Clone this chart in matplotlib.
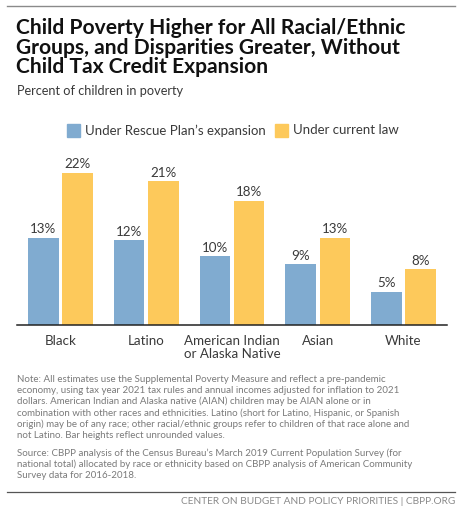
import numpy as np
import matplotlib
matplotlib.use("Agg")
import matplotlib.pyplot as plt
from matplotlib.patches import Rectangle
from matplotlib.lines import Line2D

# data
groups = ["Black", "Latino", "American Indian\nor Alaska Native", "Asian", "White"]
rescue_plan = [12.65, 12.3, 10.0, 8.85, 4.8]
current_law = [22.05, 20.8, 18.0, 12.65, 8.05]
rescue_labels = ["13%", "12%", "10%", "9%", "5%"]
current_labels = ["22%", "21%", "18%", "13%", "8%"]
series_names = ["Under Rescue Plan\u2019s expansion", "Under current law"]

title = ("Child Poverty Higher for All Racial/Ethnic\n"
         "Groups, and Disparities Greater, Without\n"
         "Child Tax Credit Expansion")
subtitle = "Percent of children in poverty"
note = ("Note: All estimates use the Supplemental Poverty Measure and reflect a pre-pandemic\n"
        "economy, using tax year 2021 tax rules and annual incomes adjusted for inflation to 2021\n"
        "dollars. American Indian and Alaska native (AIAN) children may be AIAN alone or in\n"
        "combination with other races and ethnicities. Latino (short for Latino, Hispanic, or Spanish\n"
        "origin) may be of any race; other racial/ethnic groups refer to children of that race alone and\n"
        "not Latino. Bar heights reflect unrounded values.")
source = ("Source: CBPP analysis of the Census Bureau\u2019s March 2019 Current Population Survey (for\n"
          "national total) allocated by race or ethnicity based on CBPP analysis of American Community\n"
          "Survey data for 2016-2018.")
footer = "CENTER ON BUDGET AND POLICY PRIORITIES | CBPP.ORG"

BLUE = "#80abd0"
YELLOW = "#fdc95b"
TXT = "#3a3a3a"
W, H = 464, 512

plt.rcParams["font.family"] = ["Lato", "DejaVu Sans"]

fig = plt.figure(figsize=(W / 100, H / 100), dpi=100)


def fx(px):
    return px / W


def fy(py):
    return 1 - py / H


# rules at top and bottom
fig.add_artist(Line2D([fx(7), fx(455)], [fy(6), fy(6)], color="#8a8a8a", lw=1.0))
fig.add_artist(Line2D([fx(7), fx(455)], [fy(492), fy(492)], color="#555555", lw=0.9))

fig.text(fx(16), fy(18), title, fontsize=15.1, fontweight="bold", color="#111111",
         va="top", ha="left", linespacing=0.98)
fig.text(fx(17), fy(91), subtitle, fontsize=9.2, color=TXT, va="center", ha="left")

# legend
for (x0, name, col) in [(67, series_names[0], BLUE), (275, series_names[1], YELLOW)]:
    fig.add_artist(Rectangle((fx(x0), fy(137)), fx(13), 13 / H, color=col,
                             transform=fig.transFigure))
    fig.text(fx(x0 + 18), fy(130.5), name, fontsize=9.5, color=TXT,
             va="center", ha="left")

# bars
ax = fig.add_axes([fx(17), fy(325), fx(430), (325 - 160) / H])
x = np.arange(len(groups))
bw = 0.355
off = 0.2
ax.bar(x - off, rescue_plan, bw, color=BLUE)
ax.bar(x + off, current_law, bw, color=YELLOW)
for i in range(len(groups)):
    ax.text(x[i] - off, rescue_plan[i] + 0.35, rescue_labels[i], ha="center", va="bottom",
            fontsize=9.6, color=TXT)
    ax.text(x[i] + off, current_law[i] + 0.35, current_labels[i], ha="center", va="bottom",
            fontsize=9.6, color=TXT)

ax.set_xlim(-0.507, 4.507)
ax.set_ylim(0, 165 / 6.9)
for s in ["top", "right", "left"]:
    ax.spines[s].set_visible(False)
ax.spines["bottom"].set_color("#222222")
ax.spines["bottom"].set_linewidth(1.1)
ax.set_yticks([])
ax.set_xticks(x)
ax.set_xticklabels(groups, fontsize=9.6, color=TXT, linespacing=1.15)
ax.tick_params(axis="x", length=0, pad=7)

# notes
fig.text(fx(17), fy(375), note, fontsize=7.0, color="#7a7a7a", va="top", ha="left",
         linespacing=1.25)
fig.text(fx(17), fy(448), source, fontsize=7.0, color="#7a7a7a", va="top", ha="left",
         linespacing=1.25)
fig.text(fx(455), fy(501), footer, fontsize=7.3, color="#8a8a8a", va="center", ha="right")

fig.savefig("out.png", dpi=100)
